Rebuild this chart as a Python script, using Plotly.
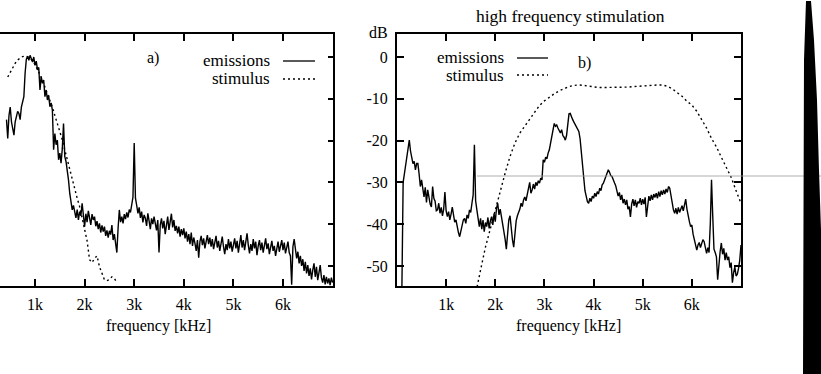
import numpy as np
import plotly.graph_objects as go

W, H = 821, 374
FONT = "Liberation Serif, Times New Roman, serif"

# ---------------- panel a) : low frequency stimulation ----------------
freq_a = np.arange(425, 7001, 25)
emis_a = [
    -15, -19.5, -14, -12,
    -15.5, -17, -18.7, -15.5, -14.4, -13, -13.5, -15, -12, -10.3, -9.5, -3.9, -0.5, 0.2, -0.8, 0.4, -0.6, -1.2, 0, -2,
    -1, -3.1, -2.5, -7.9, -4.7, -6.3, -5.5, -9.5, -7.9, -10.3, -9.2, -11.9, -11, -12.7, -22.2, -18.3, -21, -19.9, -24.6, -23,
    -25.4, -22, -15.9, -23.8, -25, -27, -29.4, -32.6, -35, -36.6, -35.5, -37.4, -38.5, -36.5, -39, -37, -38, -35, -38.5, -40.6,
    -37.5, -39.5, -36.8, -38.4, -40.2, -37.6, -39, -38.2, -40.5, -39.3, -41.2, -39.8, -42, -40.3, -41.8, -40.6, -42.8, -41.5, -43.2, -41.6,
    -42.5, -40.2, -43.8, -42.4, -44.6, -46.8, -41, -36.6, -39.5, -38.2, -39.8, -37.6, -38.8, -37.2, -38.4, -36.5, -37.2, -35, -33.5, -20.6,
    -33.8, -35.5, -37.4, -36, -38.5, -37, -39.6, -37.8, -38.6, -40.4, -37.4, -39.2, -41.2, -38.6, -40, -38.2, -39.8, -41.5, -39, -46.8,
    -40.2, -38.6, -41, -39.2, -42.4, -40, -38.2, -41.4, -39.6, -37.5, -40.8, -39, -41.6, -40.4, -42.2, -40.6, -43, -41.2, -42.6, -41,
    -43.4, -41.8, -44.2, -42.4, -44.8, -42, -45.2, -43.2, -44.6, -46.4, -43.8, -48, -44.2, -42.8, -45, -43.4, -45.8, -44, -42.6, -44.8,
    -43.2, -45.4, -43.6, -46, -44.2, -42.8, -45.6, -44, -46.4, -44.6, -43, -45.4, -47.2, -44.8, -46.2, -43.6, -45.8, -44.2, -46.6, -45,
    -43.4, -45.8, -44, -46.8, -44.4, -42.6, -45.6, -43.8, -46.2, -44.6, -42.2, -45, -47, -44.8, -46.4, -43.6, -45.8, -44.2, -47.4, -45.2,
    -43.8, -46.2, -44.4, -46.8, -45, -43.4, -46, -44.6, -47.2, -45.4, -44, -46.4, -45.2, -47.6, -45.8, -44.2, -46.6, -45.4, -43.8, -46.2,
    -44.4, -47, -45.6, -44.2, -46.8, -47.6, -54.5, -45.4, -43.6, -46.4, -48.2, -46.6, -49.4, -47.6, -50, -48.4, -51.2, -49, -51.8, -49.8,
    -52.4, -50.6, -53.2, -51, -49.4, -52.6, -50.2, -53.4, -51.6, -49.8, -52.8, -54, -52.2, -54.4, -52.6, -54.2, -53, -54.6, -52.8, -54,
]

stim_a_freq = np.arange(450, 2651, 50)
stim_a = [
    -4.8, -3.6, -2.5, -1.5, -0.7, -0.2, 0.1, 0.2, 0.1, -0.3, -0.9, -1.8,
    -2.9, -4.2, -5.6, -7.1, -8.6, -10.2, -12, -14, -15.8, -17.5,
    -19.8, -22.2, -24.6, -27, -29.4, -31.8, -33.8, -35.8, -38.5, -41.5,
    -44, -48.5, -49.2, -48.2, -47.6, -50.2, -52, -53.3, -53.5, -53.3,
    -52.6, -53, -54,
]

# ---------------- panel b) : high frequency stimulation ----------------
freq_b = np.arange(100, 7001, 25)
emis_b = [
    -55, -30, -28, -26, -23.5, -21, -19.9, -22.5, -24, -25.5, -25, -27, -25.5, -25.5, -28, -31, -29.4,
    -32, -33.5, -31.2, -34.8, -31.8, -33.6, -35.2, -35.9, -31, -33.8, -34.5, -36.8, -36.6, -35, -37.4, -36, -38, -36.4, -32.3, -36.8,
    -38.2, -37, -39, -37.6, -35.9, -37.8, -39.5, -39, -40.8, -42, -43, -41.4, -40, -39, -38.6, -39.8, -37.8, -38.6, -36.6, -37.2,
    -35, -33, -21, -34.4, -36.6, -39.4, -40.6, -38.6, -41.2, -39, -41.8, -39.6, -40.6, -38.4, -41, -39.2, -38.2, -40.2, -37.5, -39.4,
    -36.2, -35, -37.8, -36.4, -38, -40.4, -42, -43.6, -46, -41.2, -39, -38, -41.6, -43.8, -45.5, -41.4, -39.2, -38, -37.2, -36.4,
    -35, -35.8, -34.2, -33.5, -34.4, -32.6, -31.8, -30, -32.6, -31.8, -30.4, -31.6, -30, -30.8, -29.6, -30.2, -29, -29.4, -24.6, -25.2,
    -24, -24.4, -23, -22.2, -20.6, -19, -17.6, -15.9, -16.6, -16.3, -17, -17.5, -18.2, -17.4, -18.8, -19.2, -19.9, -18.8, -15.6, -13.6,
    -13.5, -14.4, -15, -15.6, -16.2, -16.8, -17.2, -17.8, -19.5, -22.6, -26.3, -30, -32, -33.3, -34.6, -35, -33.8, -34.6, -33.3, -33.8,
    -32.6, -33.4, -32.2, -32.8, -31.4, -32, -30.6, -30.2, -29.4, -28.6, -27.8, -27, -27.6, -28.4, -28.6, -29.6, -30.1, -30.8, -32.6, -33.3,
    -32.4, -34.2, -33, -35, -34, -35.4, -34.2, -36.4, -35.8, -38.3, -35.2, -34, -35.6, -34.2, -36, -34.6, -35, -33.8, -35.4, -34,
    -35.2, -33.6, -38.3, -36, -33.3, -34.4, -33, -34.2, -32.8, -33.6, -32.6, -33.8, -32.2, -33.4, -32, -33, -31.8, -32.8, -31.6, -32.4,
    -31, -31.4, -33.4, -35.8, -36.6, -37.4, -36.2, -37.6, -36, -37.2, -36.6, -35.6, -36.8, -35.2, -34, -36.4, -38.3, -39.4, -40.6, -40.2,
    -42.4, -43.7, -44.6, -46.2, -45, -44.4, -45.6, -44.5, -43.7, -44.2, -46, -47, -45.6, -46.8, -40, -29.4, -38, -46, -46.8, -47.8,
    -53.3, -49, -46.6, -44.5, -47.2, -45.8, -48.6, -46.8, -48.6, -47.8, -50.4, -49.2, -54, -51.6, -50.3, -52.4, -52, -50.6, -48.6, -45,
]

stim_b_freq = [1630, 1650, 1700] + list(range(1800, 7001, 100))
stim_b = [
    -55, -54, -51,
    -45.5, -41, -37, -32, -27.8, -23.8, -20.6, -18.2, -16.5, -15, -13, -11.6,
    -10.5, -9.6, -8.8, -8.1, -7.5, -7.1, -6.8, -6.7, -6.8, -7.0,
    -7.2, -7.3, -7.3, -7.3, -7.3, -7.3, -7.3, -7.2, -7.1, -7.0,
    -6.9, -6.8, -6.7, -6.7, -6.7, -7.0, -7.6, -8.4, -9.4, -10.6,
    -11.5, -13, -15, -17, -19.5, -21.5, -24, -26.3, -28.8, -32, -35,
]

x_ticks = [1000, 2000, 3000, 4000, 5000, 6000]
x_tick_text = ["1k", "2k", "3k", "4k", "5k", "6k"]
y_ticks = [0, -10, -20, -30, -40, -50]
y_tick_text = ["0", "-10", "-20", "-30", "-40", "-50"]


def px(x):
    return x / W


def py(y):
    return 1 - y / H


fig = go.Figure()
emis_line = dict(color="black", width=1.4)
stim_line = dict(color="black", width=1.4, dash="2px,3px")

fig.add_trace(go.Scatter(x=freq_a, y=emis_a, mode="lines", line=emis_line,
                         xaxis="x", yaxis="y", showlegend=False))
fig.add_trace(go.Scatter(x=stim_a_freq, y=stim_a, mode="lines", line=stim_line,
                         xaxis="x", yaxis="y", showlegend=False))
fig.add_trace(go.Scatter(x=freq_b, y=emis_b, mode="lines", line=emis_line,
                         xaxis="x2", yaxis="y2", showlegend=False))
fig.add_trace(go.Scatter(x=stim_b_freq, y=stim_b, mode="lines", line=stim_line,
                         xaxis="x2", yaxis="y2", showlegend=False))

y_dom = [py(286), py(34)]
y_rng = [-54.8, 5.5]
tickfont = dict(family=FONT, size=16, color="black")

xcommon = dict(tickvals=x_ticks, ticktext=x_tick_text, ticks="inside", ticklen=7,
               tickwidth=1.5, tickcolor="black", showline=True, linewidth=2,
               linecolor="black", mirror="ticks", showgrid=False, zeroline=False,
               tickfont=tickfont, ticklabelstandoff=3)

fig.update_layout(
    width=W, height=H,
    margin=dict(l=0, r=0, t=0, b=0),
    paper_bgcolor="white", plot_bgcolor="white",
    xaxis=dict(domain=[0, px(333)], range=[294, 7008], anchor="y", **xcommon),
    yaxis=dict(domain=y_dom, range=y_rng, anchor="x", side="right",
               tickvals=y_ticks, ticks="inside", ticklen=5, tickwidth=1.5,
               tickcolor="black", showticklabels=False, showline=True,
               linewidth=2, linecolor="black", showgrid=False, zeroline=False),
    xaxis2=dict(domain=[px(397), px(741)], range=[0, 7000], anchor="y2", **xcommon),
    yaxis2=dict(domain=y_dom, range=y_rng, anchor="x2", side="left",
                tickvals=y_ticks, ticktext=y_tick_text, ticks="inside", ticklen=7,
                tickwidth=1.5, tickcolor="black", showline=True, linewidth=2,
                linecolor="black", mirror="ticks", showgrid=False, zeroline=False,
                tickfont=tickfont, ticklabelstandoff=4),
)


def label(text, x, y, anchor="center", size=16):
    fig.add_annotation(text=text, x=px(x), y=py(y), xref="paper", yref="paper",
                       xanchor=anchor, yanchor="middle", showarrow=False,
                       font=dict(family=FONT, size=size, color="black"))


def sample(x0, x1, y, dash):
    fig.add_shape(type="line", xref="paper", yref="paper",
                  x0=px(x0), x1=px(x1), y0=py(y), y1=py(y),
                  line=dict(color="black", width=1.3 if dash == "solid" else 1.4,
                            dash=dash))


# axis titles and headings
label("frequency [kHz]", 158, 326)
label("frequency [kHz]", 568, 326)
label("high frequency stimulation", 570, 16, size=17.5)
label("dB", 378, 32)

# key and panel letter, panel a)
label("emissions", 272, 61, anchor="right", size=17)
label("stimulus", 272, 79, anchor="right", size=17)
sample(283, 315, 61, "solid")
sample(283, 315, 79, "2px,3px")
label("a)", 153, 58)

# key and panel letter, panel b)
label("emissions", 506, 58, anchor="right", size=17)
label("stimulus", 506, 75, anchor="right", size=17)
sample(517, 548, 58, "solid")
sample(517, 548, 75, "2px,3px")
label("b)", 584, 63)

# thin rule crossing the right side and the dark page edge
fig.add_shape(type="line", xref="paper", yref="paper",
              x0=px(477), x1=px(821), y0=py(176), y1=py(176),
              line=dict(color="#9a9a9a", width=0.8))
edge = [(806, 1), (811, 1), (814, 40), (817, 100), (819, 170), (821, 230),
        (821, 374), (803, 374), (804, 60)]
path = "M " + " L ".join(f"{px(a):.5f},{py(b):.5f}" for a, b in edge) + " Z"
fig.add_shape(type="path", xref="paper", yref="paper", path=path,
              fillcolor="black", line=dict(color="black", width=0))

fig.write_html("out.html")
